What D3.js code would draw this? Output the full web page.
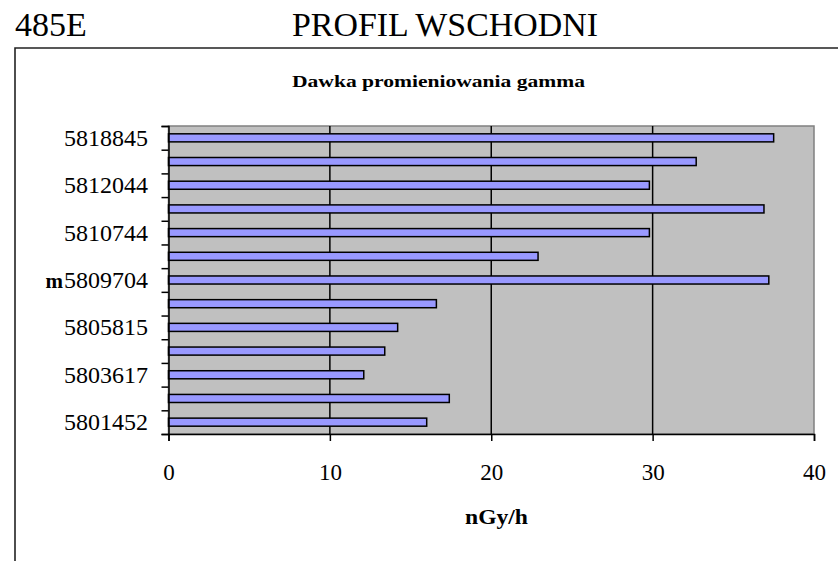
<!DOCTYPE html>
<html>
<head>
<meta charset="utf-8">
<script src="https://cdn.jsdelivr.net/npm/d3@7"></script>
<style>
  body { margin: 0; background: #fff; }
  text { font-family: "Liberation Serif", "Times New Roman", serif; fill: #000; }
</style>
</head>
<body>
<svg id="vis"></svg>
<script>
// kategorie od dołu do góry (etykieta co druga)
const categoryLabels = ["5801452", "", "5803617", "", "5805815", "", "5809704", "", "5810744", "", "5812044", "", "5818845"];
const doseValues = [16.0, 17.4, 12.1, 13.4, 14.2, 16.6, 37.2, 22.9, 29.8, 36.9, 29.8, 32.7, 37.5];
const xTicks = [0, 10, 20, 30, 40];

const WIDTH = 838;
const HEIGHT = 561;

const plot = { left: 168.5, right: 814, top: 126, bottom: 434 };

const svg = d3.select("#vis")
    .attr("width", WIDTH)
    .attr("height", HEIGHT);

// ramka wykresu (wychodzi poza prawy i dolny brzeg)
svg.append("path")
    .attr("d", `M15,${HEIGHT + 5} L15,48 L${WIDTH + 5},48`)
    .attr("fill", "none")
    .attr("stroke", "#222")
    .attr("stroke-width", 1.6);

svg.append("text")
    .attr("x", 15)
    .attr("y", 36)
    .attr("font-size", 34)
    .text("485E");

svg.append("text")
    .attr("x", 292)
    .attr("y", 36)
    .attr("font-size", 34)
    .attr("textLength", 306)
    .attr("lengthAdjust", "spacingAndGlyphs")
    .text("PROFIL WSCHODNI");

svg.append("text")
    .attr("x", 292)
    .attr("y", 87)
    .attr("font-size", 17)
    .attr("font-weight", "bold")
    .attr("textLength", 293)
    .attr("lengthAdjust", "spacingAndGlyphs")
    .text("Dawka promieniowania gamma");

const xScale = d3.scaleLinear()
    .domain([0, 40])
    .range([plot.left, plot.right]);

const yScale = d3.scaleBand()
    .domain(d3.range(doseValues.length))
    .range([plot.bottom, plot.top])
    .paddingInner(0.66)
    .paddingOuter(0.33);

// granice kategorii, do kresek na osi Y
const yEdges = d3.scaleLinear()
    .domain([0, doseValues.length])
    .range([plot.bottom, plot.top]);

// tło obszaru wykresu
svg.append("rect")
    .attr("x", plot.left)
    .attr("y", plot.top)
    .attr("width", plot.right - plot.left)
    .attr("height", plot.bottom - plot.top)
    .attr("fill", "#c0c0c0")
    .attr("stroke", "#808080")
    .attr("stroke-width", 1.5);

// linie siatki
svg.selectAll(".grid")
    .data(xTicks.filter(d => d > 0 && d < 40))
    .join("line")
    .attr("class", "grid")
    .attr("x1", d => xScale(d))
    .attr("x2", d => xScale(d))
    .attr("y1", plot.top)
    .attr("y2", plot.bottom)
    .attr("stroke", "#000")
    .attr("stroke-width", 1.5);

svg.selectAll(".bar")
    .data(doseValues)
    .join("rect")
    .attr("class", "bar")
    .attr("x", xScale(0))
    .attr("y", (d, i) => yScale(i))
    .attr("width", d => xScale(d) - xScale(0))
    .attr("height", yScale.bandwidth())
    .attr("fill", "#9999ff")
    .attr("stroke", "#000")
    .attr("stroke-width", 1.5);

// oś X
const ejeX = d3.axisBottom(xScale)
    .tickValues(xTicks)
    .tickSize(7)
    .tickPadding(39)
    .tickFormat(d3.format("d"));

const gX = svg.append("g")
    .attr("transform", `translate(0, ${plot.bottom})`)
    .call(ejeX);
gX.select(".domain").attr("stroke", "#000").attr("stroke-width", 1.5);
gX.selectAll(".tick line").attr("stroke", "#000").attr("stroke-width", 1.5);
gX.selectAll(".tick text")
    .attr("font-size", 23)
    .attr("dy", "0");

// oś Y: kreski na granicach kategorii
const ejeY = d3.axisLeft(yEdges)
    .tickValues(d3.range(doseValues.length + 1))
    .tickSize(7)
    .tickFormat("");

const gY = svg.append("g")
    .attr("transform", `translate(${plot.left}, 0)`)
    .call(ejeY);
gY.select(".domain").attr("stroke", "#000").attr("stroke-width", 1.5);
gY.selectAll(".tick line").attr("stroke", "#000").attr("stroke-width", 1.5);

// etykiety kategorii
svg.selectAll(".ylabel")
    .data(categoryLabels)
    .join("text")
    .attr("class", "ylabel")
    .attr("x", 148)
    .attr("y", (d, i) => yScale(i) + yScale.bandwidth() / 2 + 8)
    .attr("text-anchor", "end")
    .attr("font-size", 24)
    .text(d => d);

// tytuł osi Y
svg.append("text")
    .attr("x", 63)
    .attr("y", (plot.top + plot.bottom) / 2 + 8)
    .attr("text-anchor", "end")
    .attr("font-size", 21)
    .attr("font-weight", "bold")
    .text("m");

// tytuł osi X
svg.append("text")
    .attr("x", 465)
    .attr("y", 524)
    .attr("font-size", 20)
    .attr("font-weight", "bold")
    .attr("textLength", 63)
    .attr("lengthAdjust", "spacingAndGlyphs")
    .text("nGy/h");
</script>
</body>
</html>
